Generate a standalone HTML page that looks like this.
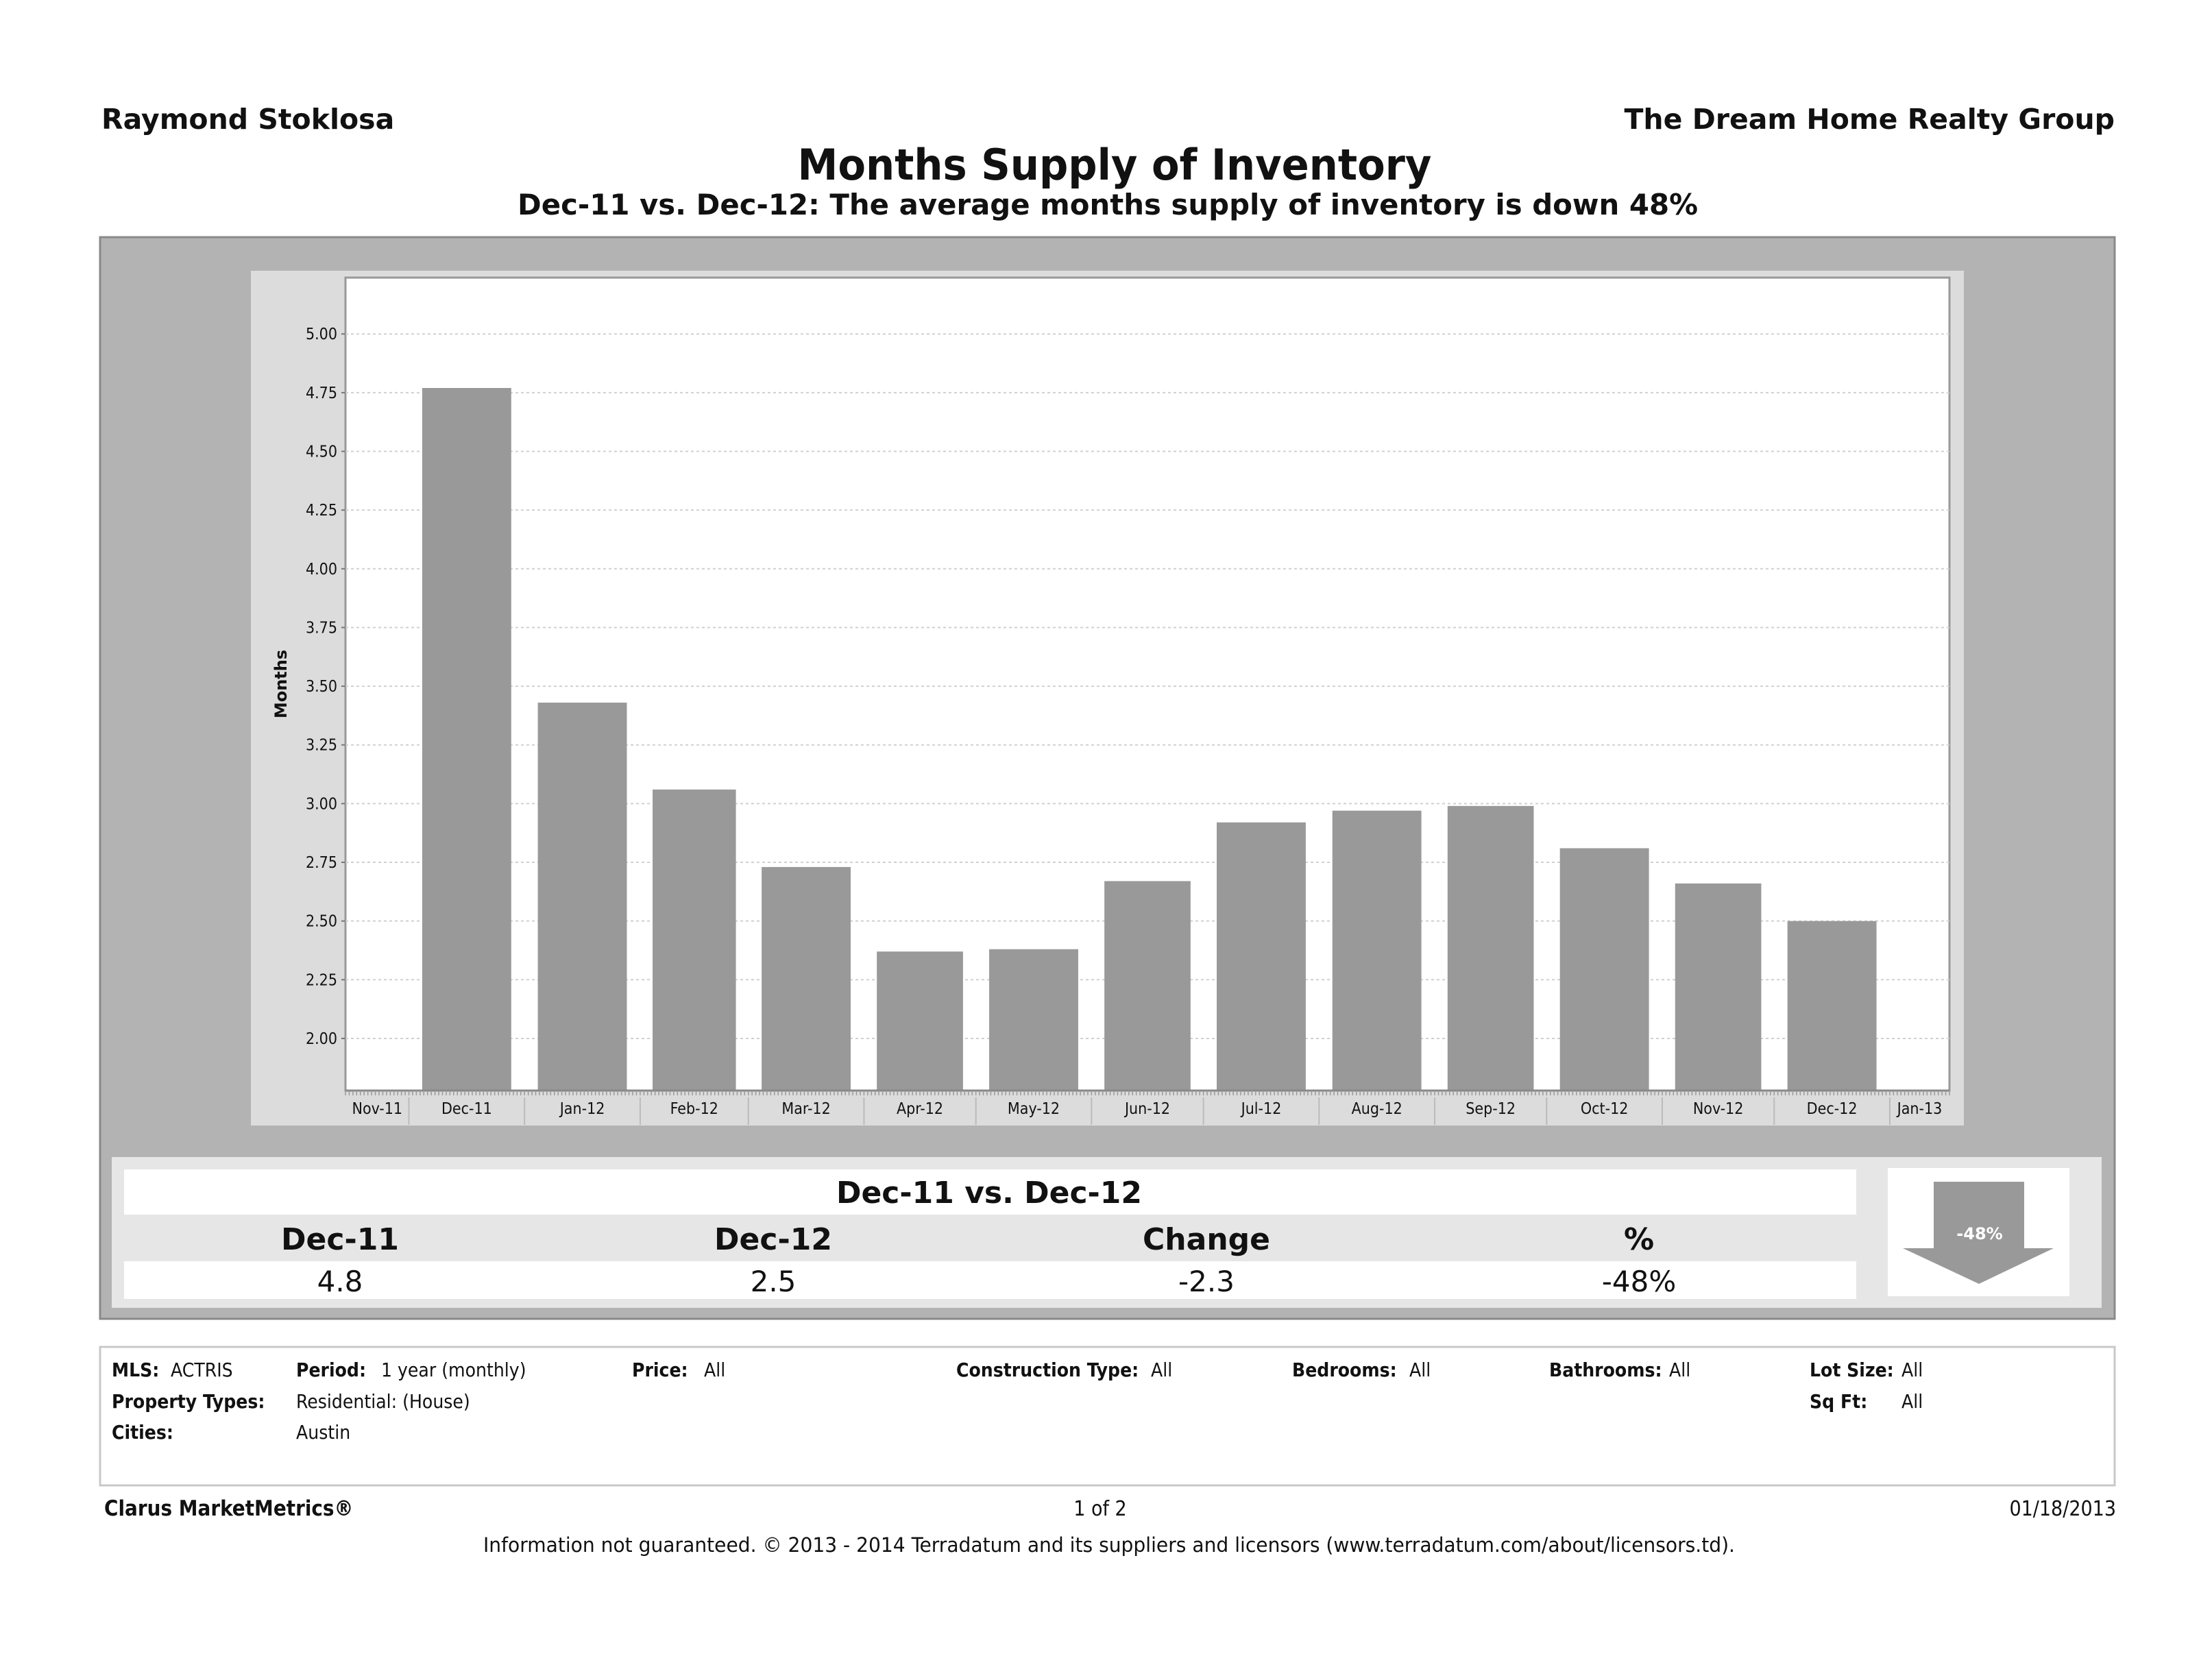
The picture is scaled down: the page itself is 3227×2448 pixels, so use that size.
<!DOCTYPE html>
<html><head><meta charset="utf-8">
<style>
html,body{margin:0;padding:0;background:#fff;}
svg{display:block;}
.b{font-family:"DejaVu Sans","Liberation Sans",sans-serif;font-weight:bold;}
.n{font-family:"DejaVu Sans","Liberation Sans",sans-serif;}
.c{font-family:"DejaVu Sans Condensed","DejaVu Sans","Liberation Sans",sans-serif;}
.cb{font-family:"DejaVu Sans Condensed","DejaVu Sans","Liberation Sans",sans-serif;font-weight:bold;}
</style></head>
<body>
<svg id="chart" width="3227" height="2448" viewBox="0 0 3227 2448" xmlns="http://www.w3.org/2000/svg">
  <rect x="0" y="0" width="3227" height="2448" fill="#fff"/>
  <text x="148" y="188" class="b" font-size="41" fill="#111">Raymond Stoklosa</text>
  <text x="3085" y="188" class="b" font-size="41" fill="#111" text-anchor="end">The Dream Home Realty Group</text>
  <text x="1626" y="262" class="b" font-size="62" fill="#111" text-anchor="middle" textLength="925" lengthAdjust="spacingAndGlyphs">Months Supply of Inventory</text>
  <text x="1616" y="313" class="b" font-size="42" fill="#111" text-anchor="middle" textLength="1722" lengthAdjust="spacingAndGlyphs">Dec-11 vs. Dec-12:  The average months supply of inventory is down 48%</text>

  <rect x="146" y="346" width="2939" height="1578" fill="#b3b3b3" stroke="#8a8a8a" stroke-width="3"/>
  <rect x="366" y="395" width="2499" height="1247" fill="#dcdcdc"/>
  <rect x="504" y="405" width="2340" height="1186" fill="#fff" stroke="#999" stroke-width="3"/>
  <g id="grid"></g>
  <g id="bars"></g>
  <g id="yaxis"></g>
  <g id="xaxis"></g>
  <text x="0" y="0" class="b" font-size="24" fill="#111" text-anchor="middle" transform="translate(418,998) rotate(-90)">Months</text>

  <rect x="163" y="1688" width="2903" height="220" fill="#e6e6e6"/>
  <rect x="181" y="1706" width="2527" height="66" fill="#fff"/>
  <text x="1443" y="1755" class="b" font-size="44" fill="#111" text-anchor="middle">Dec-11 vs. Dec-12</text>
  <text x="496" y="1823" class="b" font-size="44" fill="#111" text-anchor="middle">Dec-11</text>
  <text x="1128" y="1823" class="b" font-size="44" fill="#111" text-anchor="middle">Dec-12</text>
  <text x="1760" y="1823" class="b" font-size="44" fill="#111" text-anchor="middle">Change</text>
  <text x="2391" y="1823" class="b" font-size="44" fill="#111" text-anchor="middle">%</text>
  <rect x="181" y="1840" width="2527" height="55" fill="#fff"/>
  <text x="496" y="1884" class="n" font-size="42" fill="#111" text-anchor="middle">4.8</text>
  <text x="1128" y="1884" class="n" font-size="42" fill="#111" text-anchor="middle">2.5</text>
  <text x="1760" y="1884" class="n" font-size="42" fill="#111" text-anchor="middle">-2.3</text>
  <text x="2391" y="1884" class="n" font-size="42" fill="#111" text-anchor="middle">-48%</text>
  <rect x="2754" y="1704" width="265" height="187" fill="#fff"/>
  <polygon points="2821,1724 2953,1724 2953,1821 2996,1821 2887,1873 2776,1821 2821,1821" fill="#999"/>
  <text x="2888" y="1808" class="b" font-size="24" fill="#fff" text-anchor="middle">-48%</text>

  <rect x="146" y="1965" width="2939" height="202" fill="#fff" stroke="#c8c8c8" stroke-width="3"/>
  <g fill="#111" font-size="28">
    <text x="163" y="2008" class="cb">MLS:</text><text x="249" y="2008" class="c">ACTRIS</text>
    <text x="432" y="2008" class="cb">Period:</text><text x="556" y="2008" class="c">1 year (monthly)</text>
    <text x="922" y="2008" class="cb">Price:</text><text x="1027" y="2008" class="c">All</text>
    <text x="1395" y="2008" class="cb">Construction Type:</text><text x="1679" y="2008" class="c">All</text>
    <text x="1885" y="2008" class="cb">Bedrooms:</text><text x="2056" y="2008" class="c">All</text>
    <text x="2260" y="2008" class="cb">Bathrooms:</text><text x="2435" y="2008" class="c">All</text>
    <text x="2640" y="2008" class="cb">Lot Size:</text><text x="2774" y="2008" class="c">All</text>
    <text x="163" y="2054" class="cb">Property Types:</text><text x="432" y="2054" class="c">Residential: (House)</text>
    <text x="2640" y="2054" class="cb">Sq Ft:</text><text x="2774" y="2054" class="c">All</text>
    <text x="163" y="2099" class="cb">Cities:</text><text x="432" y="2099" class="c">Austin</text>
  </g>
  <text x="152" y="2211" class="cb" font-size="31" fill="#111">Clarus MarketMetrics®</text>
  <text x="1605" y="2211" class="c" font-size="30" fill="#111" text-anchor="middle">1 of 2</text>
  <text x="3087" y="2211" class="c" font-size="30" fill="#111" text-anchor="end">01/18/2013</text>
  <text x="1618" y="2264" class="c" font-size="29" fill="#111" text-anchor="middle" textLength="1826" lengthAdjust="spacingAndGlyphs">Information not guaranteed.  © 2013 - 2014 Terradatum and its suppliers and licensors (www.terradatum.com/about/licensors.td).</text>
</svg>
<script>
const categories = ["Dec-11","Jan-12","Feb-12","Mar-12","Apr-12","May-12","Jun-12","Jul-12","Aug-12","Sep-12","Oct-12","Nov-12","Dec-12"];
const monthsSupply = [4.77,3.43,3.06,2.73,2.37,2.38,2.67,2.92,2.97,2.99,2.81,2.66,2.50];
const yTicks = [2.00,2.25,2.50,2.75,3.00,3.25,3.50,3.75,4.00,4.25,4.50,4.75,5.00];
const axisLabels = ["Nov-11","Dec-11","Jan-12","Feb-12","Mar-12","Apr-12","May-12","Jun-12","Jul-12","Aug-12","Sep-12","Oct-12","Nov-12","Dec-12","Jan-13"];

const NS = "http://www.w3.org/2000/svg";
const PL = 504, PR = 2844, PT = 405, PB = 1591;
const yMin = 1.778, yMax = 5.24;
const day0 = Date.UTC(2011,10,14), day1 = Date.UTC(2013,0,17);
function yScale(v){ return PB - (v - yMin) / (yMax - yMin) * (PB - PT); }
function xScale(t){ return PL + (t - day0) / (day1 - day0) * (PR - PL); }
function monthStart(i){ return Date.UTC(2011, 10 + i, 1); }
function mk(tag, attrs, parent){ const e = document.createElementNS(NS, tag); for (const k in attrs) e.setAttribute(k, attrs[k]); parent.appendChild(e); return e; }

const grid = document.getElementById('grid');
const yaxis = document.getElementById('yaxis');
yTicks.forEach(v => {
  const y = yScale(v);
  const gl = mk('line', {x1:PL, x2:PR, y1:y, y2:y, stroke:'#d0d0d0', 'stroke-width':2, 'stroke-dasharray':'4,4'}, grid);
  
  
  const tk = mk('line', {x1:PL-6, x2:PL, y1:y, y2:y, stroke:'#777', 'stroke-width':2}, yaxis);
  
  
  const t = mk('text', {x:PL-12, y:y+8, 'text-anchor':'end', 'font-size':23, fill:'#111', class:'c'}, yaxis);
  t.textContent = v.toFixed(2);
  
  
});

const bars = document.getElementById('bars');
categories.forEach((c, i) => {
  const s = monthStart(i + 1), e = monthStart(i + 2);
  const mid = (s + e) / 2, half = (e - s) * 0.385;
  const x0 = xScale(mid - half), x1 = xScale(mid + half);
  const y = yScale(monthsSupply[i]);
  const r = mk('rect', {x:x0, y:y, width:x1 - x0, height:PB - y, fill:'#999'}, bars);
  
  
});

const xaxis = document.getElementById('xaxis');
mk('line', {x1:PL, x2:PR, y1:PB, y2:PB, stroke:'#888', 'stroke-width':3}, xaxis);
for (let t = day0; t <= day1; t += 86400000) {
  const x = xScale(t);
  mk('line', {x1:x, x2:x, y1:PB, y2:PB + 7, stroke:'#999', 'stroke-width':1.5}, xaxis);
}
axisLabels.forEach((lab, i) => {
  let s = Math.max(monthStart(i), day0), e = Math.min(monthStart(i + 1), day1);
  if (i > 0) {
    const dx = xScale(monthStart(i));
    const d = mk('line', {x1:dx, x2:dx, y1:PB + 10, y2:PB + 50, stroke:'#bbb', 'stroke-width':2}, xaxis);
    
    
  }
  const t = mk('text', {x:xScale((s + e) / 2), y:PB + 34, 'text-anchor':'middle', 'font-size':23, fill:'#111', class:'c'}, xaxis);
  t.textContent = lab;
  
  
});
</script>
</body></html>
